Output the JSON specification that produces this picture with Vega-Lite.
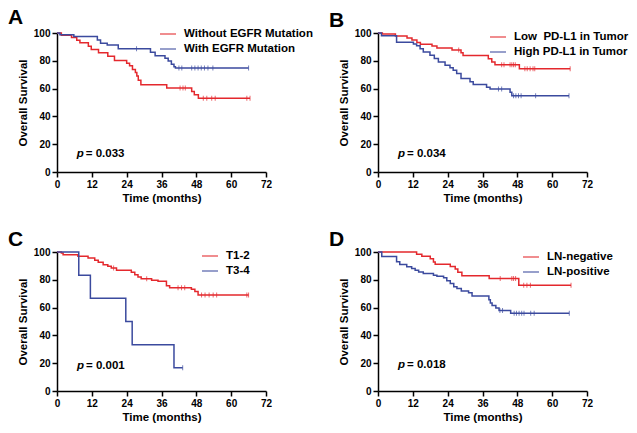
{
  "$schema": "https://vega.github.io/schema/vega-lite/v6.json",
  "padding": {"left": 8, "top": 7, "right": 5, "bottom": 5},
  "background": "white",
  "config": {
    "view": {"stroke": null},
    "axis": {"domainColor": "black", "domainWidth": 1.5, "tickColor": "black", "tickWidth": 1.5, "tickSize": 5, "labelFont": "Liberation Sans", "labelFontWeight": "bold", "labelFontSize": 10, "labelColor": "black", "titleFont": "Liberation Sans", "titleFontSize": 11.5, "titleFontWeight": "bold", "titleColor": "black", "grid": false, "labelPadding": 2, "labelOverlap": false, "labelFlush": false, "tickCount": 20},
    "legend": {"symbolType": "stroke", "symbolStrokeWidth": 1.5, "symbolSize": 256, "labelFont": "Liberation Sans", "labelFontSize": 11.5, "labelFontWeight": "bold", "labelColor": "black", "labelOffset": 7, "rowPadding": -1, "orient": "none"},
    "title": {"anchor": "start", "frame": "group", "fontSize": 21, "fontWeight": "bold", "font": "Liberation Sans", "color": "black", "dx": -49, "offset": -3}
  },
  "datasets": {
    "curves": [
      {"panel":"A","group":"Without EGFR Mutation","t":0,"s":100},{"panel":"A","group":"Without EGFR Mutation","t":1.5,"s":98.3},{"panel":"A","group":"Without EGFR Mutation","t":5,"s":96.7},{"panel":"A","group":"Without EGFR Mutation","t":6.8,"s":94.8},{"panel":"A","group":"Without EGFR Mutation","t":7.9,"s":93},{"panel":"A","group":"Without EGFR Mutation","t":10.8,"s":90.5},{"panel":"A","group":"Without EGFR Mutation","t":11.8,"s":88.2},{"panel":"A","group":"Without EGFR Mutation","t":14.3,"s":85.8},{"panel":"A","group":"Without EGFR Mutation","t":17.5,"s":83.3},{"panel":"A","group":"Without EGFR Mutation","t":19.8,"s":80.2},{"panel":"A","group":"Without EGFR Mutation","t":24,"s":78.3},{"panel":"A","group":"Without EGFR Mutation","t":25,"s":76.5},{"panel":"A","group":"Without EGFR Mutation","t":26,"s":73.8},{"panel":"A","group":"Without EGFR Mutation","t":27,"s":71.5},{"panel":"A","group":"Without EGFR Mutation","t":27.5,"s":69},{"panel":"A","group":"Without EGFR Mutation","t":28,"s":66},{"panel":"A","group":"Without EGFR Mutation","t":28.9,"s":62.8},{"panel":"A","group":"Without EGFR Mutation","t":37.8,"s":60.4},{"panel":"A","group":"Without EGFR Mutation","t":46.4,"s":58},{"panel":"A","group":"Without EGFR Mutation","t":47.3,"s":55.6},{"panel":"A","group":"Without EGFR Mutation","t":48.7,"s":53},{"panel":"A","group":"Without EGFR Mutation","t":66.5,"s":53},
      {"panel":"A","group":"With EGFR Mutation","t":0,"s":100},{"panel":"A","group":"With EGFR Mutation","t":1,"s":98.8},{"panel":"A","group":"With EGFR Mutation","t":5.8,"s":97.5},{"panel":"A","group":"With EGFR Mutation","t":13.9,"s":95},{"panel":"A","group":"With EGFR Mutation","t":15,"s":92.6},{"panel":"A","group":"With EGFR Mutation","t":17.3,"s":91.4},{"panel":"A","group":"With EGFR Mutation","t":21.1,"s":88.6},{"panel":"A","group":"With EGFR Mutation","t":32.2,"s":86.2},{"panel":"A","group":"With EGFR Mutation","t":33.8,"s":83.7},{"panel":"A","group":"With EGFR Mutation","t":37.2,"s":81.8},{"panel":"A","group":"With EGFR Mutation","t":38.3,"s":79.8},{"panel":"A","group":"With EGFR Mutation","t":39.4,"s":77.5},{"panel":"A","group":"With EGFR Mutation","t":40.3,"s":75.8},{"panel":"A","group":"With EGFR Mutation","t":40.8,"s":74.8},{"panel":"A","group":"With EGFR Mutation","t":66,"s":74.8},
      {"panel":"B","group":"Low\u00a0 PD-L1 in Tumor","t":0,"s":100},{"panel":"B","group":"Low\u00a0 PD-L1 in Tumor","t":1.5,"s":99.3},{"panel":"B","group":"Low\u00a0 PD-L1 in Tumor","t":6,"s":97.8},{"panel":"B","group":"Low\u00a0 PD-L1 in Tumor","t":10,"s":96.4},{"panel":"B","group":"Low\u00a0 PD-L1 in Tumor","t":11.7,"s":95},{"panel":"B","group":"Low\u00a0 PD-L1 in Tumor","t":13.4,"s":93.2},{"panel":"B","group":"Low\u00a0 PD-L1 in Tumor","t":14.6,"s":91.9},{"panel":"B","group":"Low\u00a0 PD-L1 in Tumor","t":18.6,"s":90.6},{"panel":"B","group":"Low\u00a0 PD-L1 in Tumor","t":20.3,"s":89.2},{"panel":"B","group":"Low\u00a0 PD-L1 in Tumor","t":25.5,"s":87.8},{"panel":"B","group":"Low\u00a0 PD-L1 in Tumor","t":28.6,"s":85.8},{"panel":"B","group":"Low\u00a0 PD-L1 in Tumor","t":29.3,"s":83.8},{"panel":"B","group":"Low\u00a0 PD-L1 in Tumor","t":38,"s":81.5},{"panel":"B","group":"Low\u00a0 PD-L1 in Tumor","t":39.2,"s":79.1},{"panel":"B","group":"Low\u00a0 PD-L1 in Tumor","t":40.3,"s":77.2},{"panel":"B","group":"Low\u00a0 PD-L1 in Tumor","t":48.7,"s":74.3},{"panel":"B","group":"Low\u00a0 PD-L1 in Tumor","t":66.2,"s":74.3},
      {"panel":"B","group":"High PD-L1 in Tumor","t":0,"s":100},{"panel":"B","group":"High PD-L1 in Tumor","t":1.2,"s":98.1},{"panel":"B","group":"High PD-L1 in Tumor","t":6.4,"s":93.3},{"panel":"B","group":"High PD-L1 in Tumor","t":12.2,"s":92.1},{"panel":"B","group":"High PD-L1 in Tumor","t":13.3,"s":90.9},{"panel":"B","group":"High PD-L1 in Tumor","t":14.5,"s":88.6},{"panel":"B","group":"High PD-L1 in Tumor","t":15.6,"s":86.3},{"panel":"B","group":"High PD-L1 in Tumor","t":17.9,"s":84},{"panel":"B","group":"High PD-L1 in Tumor","t":19.4,"s":81.6},{"panel":"B","group":"High PD-L1 in Tumor","t":20.8,"s":79.2},{"panel":"B","group":"High PD-L1 in Tumor","t":23.1,"s":76.8},{"panel":"B","group":"High PD-L1 in Tumor","t":24.8,"s":75},{"panel":"B","group":"High PD-L1 in Tumor","t":25.9,"s":73.2},{"panel":"B","group":"High PD-L1 in Tumor","t":27.1,"s":70.8},{"panel":"B","group":"High PD-L1 in Tumor","t":28.6,"s":67.2},{"panel":"B","group":"High PD-L1 in Tumor","t":31.7,"s":65},{"panel":"B","group":"High PD-L1 in Tumor","t":32.8,"s":62.9},{"panel":"B","group":"High PD-L1 in Tumor","t":37.4,"s":61},{"panel":"B","group":"High PD-L1 in Tumor","t":38.6,"s":59.8},{"panel":"B","group":"High PD-L1 in Tumor","t":45.5,"s":57.4},{"panel":"B","group":"High PD-L1 in Tumor","t":46.1,"s":54.8},{"panel":"B","group":"High PD-L1 in Tumor","t":65.8,"s":54.8},
      {"panel":"C","group":"T1-2","t":0,"s":100},{"panel":"C","group":"T1-2","t":1.5,"s":99.3},{"panel":"C","group":"T1-2","t":2.1,"s":98.1},{"panel":"C","group":"T1-2","t":7.2,"s":96.9},{"panel":"C","group":"T1-2","t":10.7,"s":95.7},{"panel":"C","group":"T1-2","t":13,"s":94},{"panel":"C","group":"T1-2","t":14.2,"s":92.6},{"panel":"C","group":"T1-2","t":15.9,"s":90.9},{"panel":"C","group":"T1-2","t":17.5,"s":89.7},{"panel":"C","group":"T1-2","t":18.7,"s":88.5},{"panel":"C","group":"T1-2","t":20.5,"s":86.8},{"panel":"C","group":"T1-2","t":25.6,"s":85.4},{"panel":"C","group":"T1-2","t":26.8,"s":83.7},{"panel":"C","group":"T1-2","t":27.9,"s":82},{"panel":"C","group":"T1-2","t":29,"s":80.8},{"panel":"C","group":"T1-2","t":32.6,"s":79.6},{"panel":"C","group":"T1-2","t":34.8,"s":78.9},{"panel":"C","group":"T1-2","t":37.7,"s":75.8},{"panel":"C","group":"T1-2","t":38.8,"s":74.2},{"panel":"C","group":"T1-2","t":46.3,"s":73.2},{"panel":"C","group":"T1-2","t":47.5,"s":71.5},{"panel":"C","group":"T1-2","t":48.6,"s":69},{"panel":"C","group":"T1-2","t":66,"s":69},
      {"panel":"C","group":"T3-4","t":0,"s":100},{"panel":"C","group":"T3-4","t":7.5,"s":83.3},{"panel":"C","group":"T3-4","t":11.5,"s":66.7},{"panel":"C","group":"T3-4","t":23.7,"s":50},{"panel":"C","group":"T3-4","t":25.9,"s":33.3},{"panel":"C","group":"T3-4","t":40.3,"s":16.7},{"panel":"C","group":"T3-4","t":43.3,"s":16.7},
      {"panel":"D","group":"LN-negative","t":0,"s":100},{"panel":"D","group":"LN-negative","t":13.3,"s":98.3},{"panel":"D","group":"LN-negative","t":15.1,"s":96.9},{"panel":"D","group":"LN-negative","t":18,"s":95.2},{"panel":"D","group":"LN-negative","t":19.1,"s":92.8},{"panel":"D","group":"LN-negative","t":19.7,"s":91.1},{"panel":"D","group":"LN-negative","t":24.9,"s":89.6},{"panel":"D","group":"LN-negative","t":26.6,"s":87.7},{"panel":"D","group":"LN-negative","t":27.5,"s":85.5},{"panel":"D","group":"LN-negative","t":28.9,"s":83},{"panel":"D","group":"LN-negative","t":38.3,"s":80.9},{"panel":"D","group":"LN-negative","t":48.5,"s":76.1},{"panel":"D","group":"LN-negative","t":66.5,"s":76.1},
      {"panel":"D","group":"LN-positive","t":0,"s":100},{"panel":"D","group":"LN-positive","t":1.3,"s":96.7},{"panel":"D","group":"LN-positive","t":6.4,"s":93},{"panel":"D","group":"LN-positive","t":7.5,"s":91},{"panel":"D","group":"LN-positive","t":9.9,"s":89.4},{"panel":"D","group":"LN-positive","t":11.6,"s":88.2},{"panel":"D","group":"LN-positive","t":12.8,"s":86.9},{"panel":"D","group":"LN-positive","t":14,"s":85.7},{"panel":"D","group":"LN-positive","t":15.6,"s":84.5},{"panel":"D","group":"LN-positive","t":19.1,"s":83.3},{"panel":"D","group":"LN-positive","t":20.3,"s":82.5},{"panel":"D","group":"LN-positive","t":22.6,"s":81.4},{"panel":"D","group":"LN-positive","t":23.7,"s":79.4},{"panel":"D","group":"LN-positive","t":24.9,"s":77.4},{"panel":"D","group":"LN-positive","t":26.1,"s":75},{"panel":"D","group":"LN-positive","t":27.2,"s":73.7},{"panel":"D","group":"LN-positive","t":28.7,"s":71.9},{"panel":"D","group":"LN-positive","t":31.2,"s":70.7},{"panel":"D","group":"LN-positive","t":32.4,"s":68.3},{"panel":"D","group":"LN-positive","t":38.2,"s":65.7},{"panel":"D","group":"LN-positive","t":38.7,"s":63.3},{"panel":"D","group":"LN-positive","t":39.3,"s":61.6},{"panel":"D","group":"LN-positive","t":40.6,"s":59.7},{"panel":"D","group":"LN-positive","t":41.7,"s":58},{"panel":"D","group":"LN-positive","t":45.7,"s":56},{"panel":"D","group":"LN-positive","t":65.9,"s":56}
    ],
    "censors": [
      {"panel":"A","group":"Without EGFR Mutation","t":42.4,"s":60.4},{"panel":"A","group":"Without EGFR Mutation","t":43.4,"s":60.4},{"panel":"A","group":"Without EGFR Mutation","t":44.2,"s":60.4},{"panel":"A","group":"Without EGFR Mutation","t":50.4,"s":53},{"panel":"A","group":"Without EGFR Mutation","t":51.6,"s":53},{"panel":"A","group":"Without EGFR Mutation","t":53.3,"s":53},{"panel":"A","group":"Without EGFR Mutation","t":54.5,"s":53},{"panel":"A","group":"Without EGFR Mutation","t":65.4,"s":53},{"panel":"A","group":"Without EGFR Mutation","t":66.5,"s":53},
      {"panel":"A","group":"With EGFR Mutation","t":27.4,"s":88.6},{"panel":"A","group":"With EGFR Mutation","t":42,"s":74.8},{"panel":"A","group":"With EGFR Mutation","t":43,"s":74.8},{"panel":"A","group":"With EGFR Mutation","t":46.4,"s":74.8},{"panel":"A","group":"With EGFR Mutation","t":47.5,"s":74.8},{"panel":"A","group":"With EGFR Mutation","t":48.6,"s":74.8},{"panel":"A","group":"With EGFR Mutation","t":49.7,"s":74.8},{"panel":"A","group":"With EGFR Mutation","t":50.8,"s":74.8},{"panel":"A","group":"With EGFR Mutation","t":52,"s":74.8},{"panel":"A","group":"With EGFR Mutation","t":53.7,"s":74.8},{"panel":"A","group":"With EGFR Mutation","t":66,"s":74.8},
      {"panel":"B","group":"Low\u00a0 PD-L1 in Tumor","t":27.8,"s":87.8},{"panel":"B","group":"Low\u00a0 PD-L1 in Tumor","t":42.6,"s":77.2},{"panel":"B","group":"Low\u00a0 PD-L1 in Tumor","t":43.4,"s":77.2},{"panel":"B","group":"Low\u00a0 PD-L1 in Tumor","t":45.5,"s":77.2},{"panel":"B","group":"Low\u00a0 PD-L1 in Tumor","t":46.1,"s":77.2},{"panel":"B","group":"Low\u00a0 PD-L1 in Tumor","t":46.7,"s":77.2},{"panel":"B","group":"Low\u00a0 PD-L1 in Tumor","t":47.3,"s":77.2},{"panel":"B","group":"Low\u00a0 PD-L1 in Tumor","t":50.6,"s":74.3},{"panel":"B","group":"Low\u00a0 PD-L1 in Tumor","t":51.4,"s":74.3},{"panel":"B","group":"Low\u00a0 PD-L1 in Tumor","t":52.4,"s":74.3},{"panel":"B","group":"Low\u00a0 PD-L1 in Tumor","t":53.4,"s":74.3},{"panel":"B","group":"Low\u00a0 PD-L1 in Tumor","t":54,"s":74.3},{"panel":"B","group":"Low\u00a0 PD-L1 in Tumor","t":66.2,"s":74.3},
      {"panel":"B","group":"High PD-L1 in Tumor","t":41.5,"s":59.8},{"panel":"B","group":"High PD-L1 in Tumor","t":42.6,"s":59.8},{"panel":"B","group":"High PD-L1 in Tumor","t":46.7,"s":54.8},{"panel":"B","group":"High PD-L1 in Tumor","t":47.5,"s":54.8},{"panel":"B","group":"High PD-L1 in Tumor","t":48.4,"s":54.8},{"panel":"B","group":"High PD-L1 in Tumor","t":49.3,"s":54.8},{"panel":"B","group":"High PD-L1 in Tumor","t":54.3,"s":54.8},{"panel":"B","group":"High PD-L1 in Tumor","t":65.8,"s":54.8},
      {"panel":"C","group":"T1-2","t":19.5,"s":88.5},{"panel":"C","group":"T1-2","t":30.9,"s":80.8},{"panel":"C","group":"T1-2","t":41.7,"s":74.2},{"panel":"C","group":"T1-2","t":42.9,"s":74.2},{"panel":"C","group":"T1-2","t":44,"s":74.2},{"panel":"C","group":"T1-2","t":49.8,"s":69},{"panel":"C","group":"T1-2","t":51,"s":69},{"panel":"C","group":"T1-2","t":52.4,"s":69},{"panel":"C","group":"T1-2","t":53.8,"s":69},{"panel":"C","group":"T1-2","t":55,"s":69},{"panel":"C","group":"T1-2","t":65.4,"s":69},{"panel":"C","group":"T1-2","t":66,"s":69},
      {"panel":"C","group":"T3-4","t":43.3,"s":16.7},
      {"panel":"D","group":"LN-negative","t":42.1,"s":80.9},{"panel":"D","group":"LN-negative","t":46.1,"s":80.9},{"panel":"D","group":"LN-negative","t":46.7,"s":80.9},{"panel":"D","group":"LN-negative","t":47.4,"s":80.9},{"panel":"D","group":"LN-negative","t":50.2,"s":76.1},{"panel":"D","group":"LN-negative","t":51.3,"s":76.1},{"panel":"D","group":"LN-negative","t":52.5,"s":76.1},{"panel":"D","group":"LN-negative","t":66.5,"s":76.1},
      {"panel":"D","group":"LN-positive","t":42,"s":58},{"panel":"D","group":"LN-positive","t":42.9,"s":58},{"panel":"D","group":"LN-positive","t":46.9,"s":56},{"panel":"D","group":"LN-positive","t":47.7,"s":56},{"panel":"D","group":"LN-positive","t":48.6,"s":56},{"panel":"D","group":"LN-positive","t":49.5,"s":56},{"panel":"D","group":"LN-positive","t":50.3,"s":56},{"panel":"D","group":"LN-positive","t":52.6,"s":56},{"panel":"D","group":"LN-positive","t":53.8,"s":56},{"panel":"D","group":"LN-positive","t":65.9,"s":56}
    ],
    "pvals": [
      {"panel":"A","label":"= 0.033","t":6.8,"s":12.9},
      {"panel":"B","label":"= 0.034","t":6.9,"s":12.9},
      {"panel":"C","label":"= 0.001","t":6.9,"s":18.2},
      {"panel":"D","label":"= 0.018","t":6.9,"s":18.6}
    ]
  },
  "columns": 2,
  "bounds": "flush",
  "spacing": {"row": 80, "column": 112},
  "resolve": {"scale": {"color": "independent", "x": "independent", "y": "independent"}, "legend": {"color": "independent"}},
  "concat": [
    {
      "width": 209, "height": 139,
      "title": {"text": "A"},
      "layer": [
        {"data": {"name": "curves"}, "transform": [{"filter": "datum.panel == 'A'"}],
         "mark": {"type": "line", "interpolate": "step-after", "strokeWidth": 1.5},
         "encoding": {
           "x": {"field": "t", "type": "quantitative", "scale": {"domain": [0, 72], "nice": false}, "axis": {"values": [0,12,24,36,48,60,72], "tickCount": 20, "title": "Time (months)", "titlePadding": 3}},
           "y": {"field": "s", "type": "quantitative", "scale": {"domain": [0, 100], "nice": false}, "axis": {"values": [0,20,40,60,80,100], "tickCount": 20, "title": "Overall Survival", "titlePadding": 5}},
           "color": {"field": "group", "type": "nominal", "scale": {"domain": ["Without EGFR Mutation", "With EGFR Mutation"], "range": ["#e4282d", "#3b4a9e"]}, "legend": {"title": null, "legendX": 102, "legendY": -8}}
         }},
        {"data": {"name": "censors"}, "transform": [{"filter": "datum.panel == 'A'"}],
         "mark": {"type": "tick", "orient": "vertical", "size": 5, "thickness": 1},
         "encoding": {"x": {"field": "t", "type": "quantitative"}, "y": {"field": "s", "type": "quantitative"}, "color": {"field": "group", "type": "nominal"}}},
        {"data": {"name": "pvals"}, "transform": [{"filter": "datum.panel == 'A'"}],
         "mark": {"type": "text", "text": "p", "fontStyle": "italic", "fontWeight": "bold", "fontSize": 11.5, "font": "Liberation Sans", "align": "left", "baseline": "middle", "color": "black"},
         "encoding": {"x": {"field": "t", "type": "quantitative"}, "y": {"field": "s", "type": "quantitative"}}},
        {"data": {"name": "pvals"}, "transform": [{"filter": "datum.panel == 'A'"}],
         "mark": {"type": "text", "dx": 9, "fontWeight": "bold", "fontSize": 11.5, "font": "Liberation Sans", "align": "left", "baseline": "middle", "color": "black"},
         "encoding": {"x": {"field": "t", "type": "quantitative"}, "y": {"field": "s", "type": "quantitative"}, "text": {"field": "label"}}}
      ]
    },
    {
      "width": 209, "height": 139,
      "title": {"text": "B"},
      "layer": [
        {"data": {"name": "curves"}, "transform": [{"filter": "datum.panel == 'B'"}],
         "mark": {"type": "line", "interpolate": "step-after", "strokeWidth": 1.5},
         "encoding": {
           "x": {"field": "t", "type": "quantitative", "scale": {"domain": [0, 72], "nice": false}, "axis": {"values": [0,12,24,36,48,60,72], "tickCount": 20, "title": "Time (months)", "titlePadding": 3}},
           "y": {"field": "s", "type": "quantitative", "scale": {"domain": [0, 100], "nice": false}, "axis": {"values": [0,20,40,60,80,100], "tickCount": 20, "title": "Overall Survival", "titlePadding": 5}},
           "color": {"field": "group", "type": "nominal", "scale": {"domain": ["Low\u00a0 PD-L1 in Tumor", "High PD-L1 in Tumor"], "range": ["#e4282d", "#3b4a9e"]}, "legend": {"title": null, "legendX": 111, "legendY": -5}}
         }},
        {"data": {"name": "censors"}, "transform": [{"filter": "datum.panel == 'B'"}],
         "mark": {"type": "tick", "orient": "vertical", "size": 5, "thickness": 1},
         "encoding": {"x": {"field": "t", "type": "quantitative"}, "y": {"field": "s", "type": "quantitative"}, "color": {"field": "group", "type": "nominal"}}},
        {"data": {"name": "pvals"}, "transform": [{"filter": "datum.panel == 'B'"}],
         "mark": {"type": "text", "text": "p", "fontStyle": "italic", "fontWeight": "bold", "fontSize": 11.5, "font": "Liberation Sans", "align": "left", "baseline": "middle", "color": "black"},
         "encoding": {"x": {"field": "t", "type": "quantitative"}, "y": {"field": "s", "type": "quantitative"}}},
        {"data": {"name": "pvals"}, "transform": [{"filter": "datum.panel == 'B'"}],
         "mark": {"type": "text", "dx": 9, "fontWeight": "bold", "fontSize": 11.5, "font": "Liberation Sans", "align": "left", "baseline": "middle", "color": "black"},
         "encoding": {"x": {"field": "t", "type": "quantitative"}, "y": {"field": "s", "type": "quantitative"}, "text": {"field": "label"}}}
      ]
    },
    {
      "width": 209, "height": 139,
      "title": {"text": "C"},
      "layer": [
        {"data": {"name": "curves"}, "transform": [{"filter": "datum.panel == 'C'"}],
         "mark": {"type": "line", "interpolate": "step-after", "strokeWidth": 1.5},
         "encoding": {
           "x": {"field": "t", "type": "quantitative", "scale": {"domain": [0, 72], "nice": false}, "axis": {"values": [0,12,24,36,48,60,72], "tickCount": 20, "title": "Time (months)", "titlePadding": 3}},
           "y": {"field": "s", "type": "quantitative", "scale": {"domain": [0, 100], "nice": false}, "axis": {"values": [0,20,40,60,80,100], "tickCount": 20, "title": "Overall Survival", "titlePadding": 5}},
           "color": {"field": "group", "type": "nominal", "scale": {"domain": ["T1-2", "T3-4"], "range": ["#e4282d", "#3b4a9e"]}, "legend": {"title": null, "legendX": 144, "legendY": -5}}
         }},
        {"data": {"name": "censors"}, "transform": [{"filter": "datum.panel == 'C'"}],
         "mark": {"type": "tick", "orient": "vertical", "size": 5, "thickness": 1},
         "encoding": {"x": {"field": "t", "type": "quantitative"}, "y": {"field": "s", "type": "quantitative"}, "color": {"field": "group", "type": "nominal"}}},
        {"data": {"name": "pvals"}, "transform": [{"filter": "datum.panel == 'C'"}],
         "mark": {"type": "text", "text": "p", "fontStyle": "italic", "fontWeight": "bold", "fontSize": 11.5, "font": "Liberation Sans", "align": "left", "baseline": "middle", "color": "black"},
         "encoding": {"x": {"field": "t", "type": "quantitative"}, "y": {"field": "s", "type": "quantitative"}}},
        {"data": {"name": "pvals"}, "transform": [{"filter": "datum.panel == 'C'"}],
         "mark": {"type": "text", "dx": 9, "fontWeight": "bold", "fontSize": 11.5, "font": "Liberation Sans", "align": "left", "baseline": "middle", "color": "black"},
         "encoding": {"x": {"field": "t", "type": "quantitative"}, "y": {"field": "s", "type": "quantitative"}, "text": {"field": "label"}}}
      ]
    },
    {
      "width": 209, "height": 139,
      "title": {"text": "D"},
      "layer": [
        {"data": {"name": "curves"}, "transform": [{"filter": "datum.panel == 'D'"}],
         "mark": {"type": "line", "interpolate": "step-after", "strokeWidth": 1.5},
         "encoding": {
           "x": {"field": "t", "type": "quantitative", "scale": {"domain": [0, 72], "nice": false}, "axis": {"values": [0,12,24,36,48,60,72], "tickCount": 20, "title": "Time (months)", "titlePadding": 3}},
           "y": {"field": "s", "type": "quantitative", "scale": {"domain": [0, 100], "nice": false}, "axis": {"values": [0,20,40,60,80,100], "tickCount": 20, "title": "Overall Survival", "titlePadding": 5}},
           "color": {"field": "group", "type": "nominal", "scale": {"domain": ["LN-negative", "LN-positive"], "range": ["#e4282d", "#3b4a9e"]}, "legend": {"title": null, "legendX": 144, "legendY": -4}}
         }},
        {"data": {"name": "censors"}, "transform": [{"filter": "datum.panel == 'D'"}],
         "mark": {"type": "tick", "orient": "vertical", "size": 5, "thickness": 1},
         "encoding": {"x": {"field": "t", "type": "quantitative"}, "y": {"field": "s", "type": "quantitative"}, "color": {"field": "group", "type": "nominal"}}},
        {"data": {"name": "pvals"}, "transform": [{"filter": "datum.panel == 'D'"}],
         "mark": {"type": "text", "text": "p", "fontStyle": "italic", "fontWeight": "bold", "fontSize": 11.5, "font": "Liberation Sans", "align": "left", "baseline": "middle", "color": "black"},
         "encoding": {"x": {"field": "t", "type": "quantitative"}, "y": {"field": "s", "type": "quantitative"}}},
        {"data": {"name": "pvals"}, "transform": [{"filter": "datum.panel == 'D'"}],
         "mark": {"type": "text", "dx": 9, "fontWeight": "bold", "fontSize": 11.5, "font": "Liberation Sans", "align": "left", "baseline": "middle", "color": "black"},
         "encoding": {"x": {"field": "t", "type": "quantitative"}, "y": {"field": "s", "type": "quantitative"}, "text": {"field": "label"}}}
      ]
    }
  ]
}
